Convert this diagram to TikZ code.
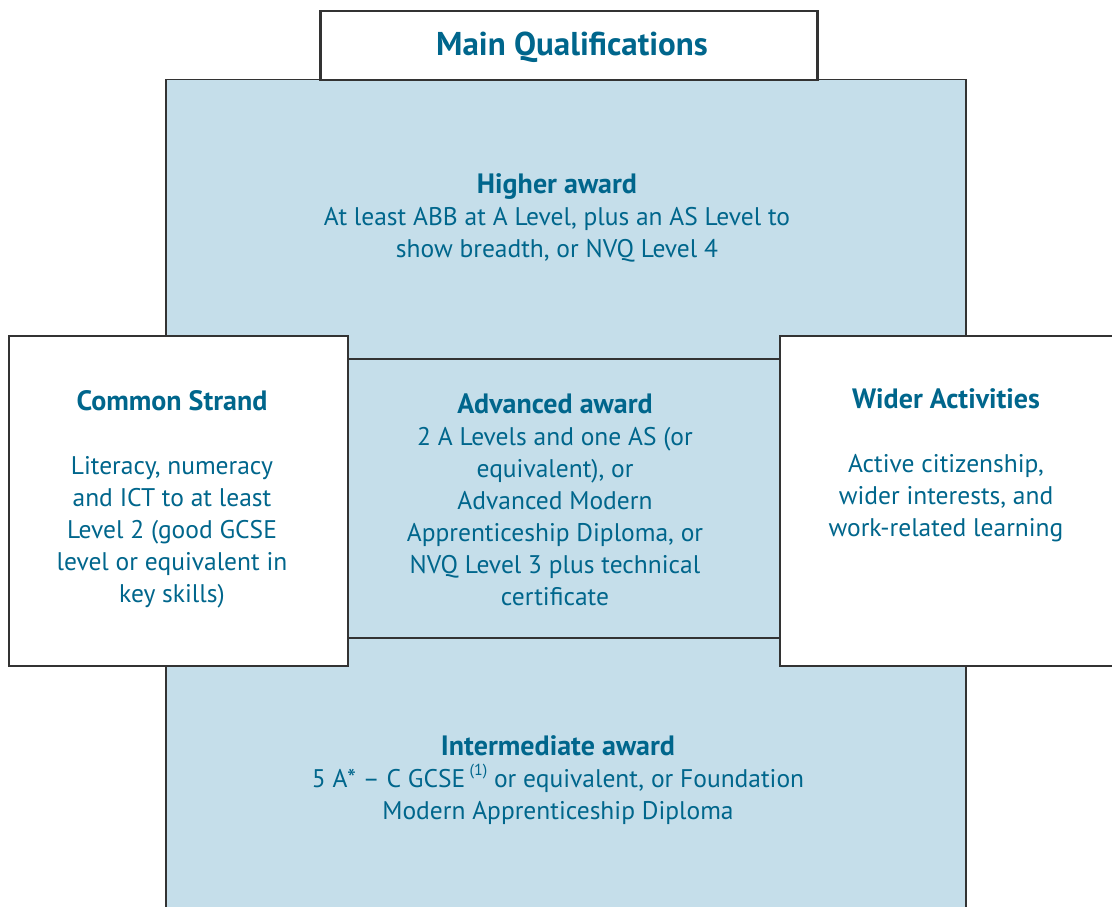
\documentclass[tikz,border=0pt]{standalone}
\usepackage{fontspec}
\setmainfont{PT Sans}
\definecolor{txt}{HTML}{00668C}
\definecolor{bluefill}{HTML}{C5DEEA}
\definecolor{edge}{HTML}{333333}
\newcommand{\hd}[1]{{\fontsize{28}{32}\selectfont\bfseries #1}}
\begin{document}
\begin{tikzpicture}[x=1pt,y=-1pt,
  boxline/.style={draw=edge,line width=1.5pt},
  whitebox/.style={boxline,fill=white,rectangle,inner sep=0pt,anchor=north west},
  label/.style={text=txt,align=center,inner sep=0pt,anchor=base,font=\fontsize{25.5}{32}\selectfont}]
\useasboundingbox (0,0) rectangle (1112,907);
% main blue column
\node[rectangle,fill=bluefill,boxline,inner sep=0pt,anchor=north west,minimum width=800pt,minimum height=840pt] (col) at (165,79) {};
% middle band lines
\node[rectangle,boxline,inner sep=0pt,anchor=north west,minimum width=432pt,minimum height=279pt] (band) at (347,358) {};
% title
\node[whitebox,line width=2.5pt,minimum width=497pt,minimum height=69pt] (title) at (319,10) {};
\node[label,font=\fontsize{33}{36}\selectfont\bfseries] (titletext) at (572,56) {Main Qualifications};
% side boxes
\node[whitebox,minimum width=339pt,minimum height=330pt] (left) at (8,335) {};
\node[whitebox,minimum width=345pt,minimum height=330pt] (right) at (779,335) {};
% texts
\node[label] (higher) at (557,257) {\hd{Higher award}\\At least ABB at A Level, plus an AS Level to\\show breadth, or NVQ Level 4};
\node[label] (adv) at (555,605) {\hd{Advanced award}\\2 A Levels and one AS (or\\equivalent), or\\Advanced Modern\\Apprenticeship Diploma, or\\NVQ Level 3 plus technical\\certificate};
\node[label] (common) at (172,602) {\hd{Common Strand}\\[32pt]Literacy, numeracy\\and ICT to at least\\Level 2 (good GCSE\\level or equivalent in\\key skills)};
\node[label] (wider) at (946,536) {\hd{Wider Activities}\\[32pt]Active citizenship,\\wider interests, and\\work-related learning};
\node[label] (inter) at (558,819) {\hd{Intermediate award}\\5 A* -- C GCSE\,\raisebox{0.45em}{\fontsize{16}{16}\selectfont(1)} or equivalent, or Foundation\\Modern Apprenticeship Diploma};
\end{tikzpicture}
\end{document}
